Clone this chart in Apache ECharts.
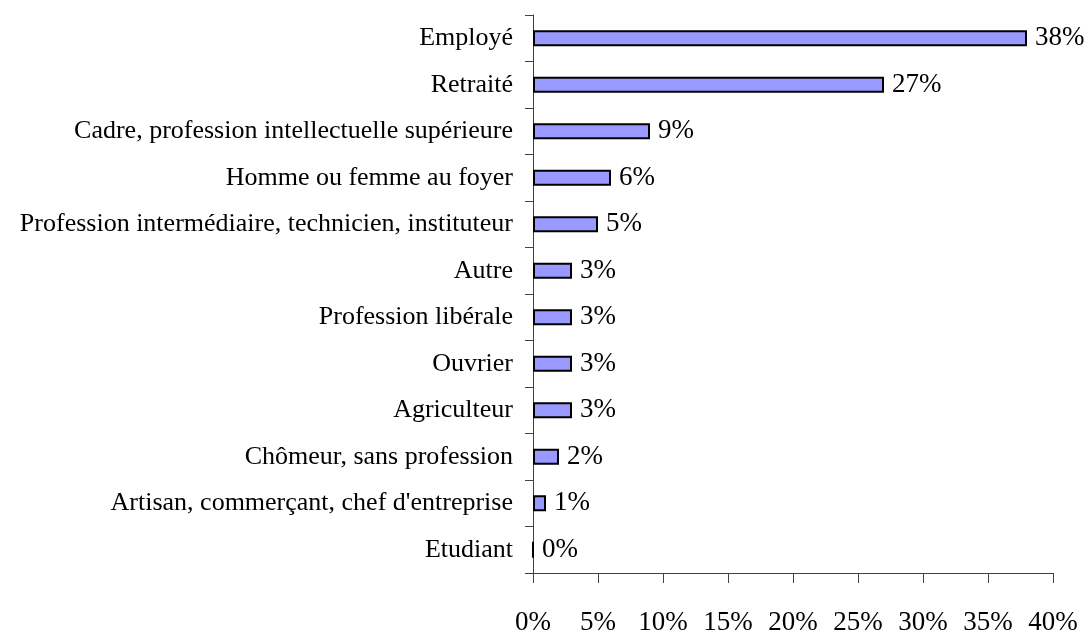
<!DOCTYPE html>
<html>
<head>
<meta charset="utf-8">
<script src="https://cdn.jsdelivr.net/npm/echarts@6/dist/echarts.min.js"></script>
<style>
  html, body { margin: 0; padding: 0; background: #fff; }
  #chart { width: 1091px; height: 634px; }
</style>
</head>
<body>
<div id="chart"></div>
<script>
// categories, top to bottom
const categories = [
  "Employé",
  "Retraité",
  "Cadre, profession intellectuelle supérieure",
  "Homme ou femme au foyer",
  "Profession intermédiaire, technicien, instituteur",
  "Autre",
  "Profession libérale",
  "Ouvrier",
  "Agriculteur",
  "Chômeur, sans profession",
  "Artisan, commerçant, chef d'entreprise",
  "Etudiant"
];
// share of respondents, in %
const shares = [38, 27, 9, 6, 5, 3, 3, 3, 3, 2, 1, 0];
// x axis range, in %
const xMin = 0, xMax = 40, xStep = 5;

const font = "'Liberation Serif', 'Times New Roman', serif";
const axisColor = '#404040';

let myChart = echarts.init(document.getElementById('chart'));
myChart.setOption({
  animation: false,
  grid: { left: 533, right: 38, top: 15, bottom: 61, outerBoundsMode: 'none', containLabel: false },
  xAxis: {
    type: 'value',
    min: xMin,
    max: xMax,
    interval: xStep,
    splitLine: { show: false },
    axisLine: { show: true, lineStyle: { color: axisColor, width: 1 } },
    axisTick: { show: true, length: 10, lineStyle: { color: axisColor } },
    axisLabel: {
      margin: 36,
      fontFamily: font,
      fontSize: 27,
      color: '#000',
      formatter: v => v + '%'
    }
  },
  yAxis: {
    type: 'category',
    inverse: true,
    data: categories,
    axisLine: { show: true, lineStyle: { color: axisColor, width: 1 } },
    axisTick: { show: true, length: 8, inside: false, lineStyle: { color: axisColor } },
    axisLabel: {
      margin: 20,
      fontFamily: font,
      fontSize: 26,
      color: '#000'
    }
  },
  series: [{
    type: 'bar',
    data: shares,
    barWidth: 16,
    itemStyle: { color: '#9999FF', borderColor: '#000', borderWidth: 2 },
    label: {
      show: true,
      position: 'right',
      distance: 8,
      fontFamily: font,
      fontSize: 27,
      color: '#000',
      formatter: p => p.value + '%'
    }
  }]
});
</script>
</body>
</html>
